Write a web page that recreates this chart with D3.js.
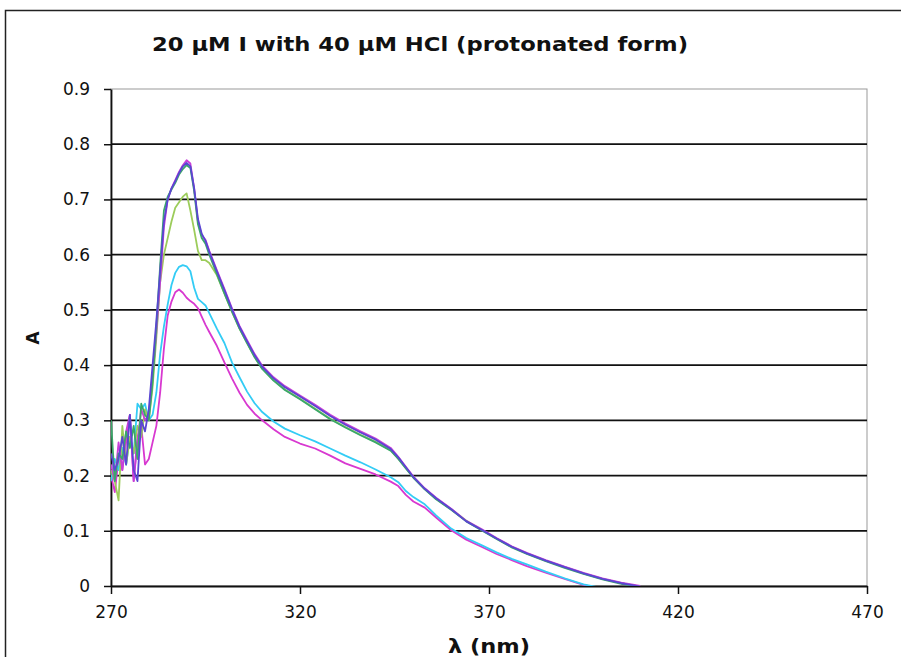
<!DOCTYPE html>
<html>
<head>
<meta charset="utf-8">
<script src="https://cdn.jsdelivr.net/npm/d3@7"></script>
<style>
  body { margin: 0; background: #fff; }
  svg { display: block; }
  text { font-family: 'DejaVu Sans', Verdana, sans-serif; }
</style>
</head>
<body>
<svg width="901" height="657"></svg>
<script>
// data
var wavelengths = [270,271,272,273,274,275,276,277,278,279,280,281,282,283,284,285,286,287,288,289,290,
  291,292,293,294,295,296,298,300,302,304,306,308,310,313,316,320,324,328,332,336,340,344,346,348,350,
  353,356,360,364,368,372,376,380,385,390,395,400,405,410];

var magentaLow = [0.20,0.17,0.23,0.21,0.26,0.31,0.19,0.27,0.29,0.22,0.23,0.26,0.29,0.35,0.43,0.49,0.515,0.532,0.537,0.531,0.522,
  0.516,0.511,0.503,0.488,0.473,0.46,0.435,0.405,0.376,0.35,0.328,0.312,0.30,0.284,0.27,0.258,0.249,0.236,0.222,0.212,0.202,0.189,0.181,0.165,0.153,
  0.142,0.124,0.101,0.084,0.071,0.058,0.047,0.036,0.024,0.013,0.002,-0.005,null,null];
var cyan = [0.19,0.23,0.21,0.25,0.22,0.27,0.24,0.33,0.32,0.33,0.30,0.31,0.35,0.42,0.47,0.51,0.545,0.567,0.578,0.581,0.579,
  0.57,0.54,0.52,0.514,0.508,0.494,0.466,0.44,0.405,0.378,0.352,0.331,0.315,0.298,0.285,0.273,0.262,0.249,0.236,0.224,0.211,0.197,0.188,0.172,0.161,
  0.148,0.128,0.104,0.087,0.074,0.061,0.049,0.039,0.026,0.014,0.003,-0.004,null,null];
var lightGreen = [0.21,0.19,0.155,0.29,0.22,0.27,0.24,0.29,0.27,0.32,0.30,0.36,0.45,0.55,0.60,0.63,0.66,0.685,0.695,0.705,0.711,
  0.68,0.645,0.607,0.59,0.59,0.585,0.563,0.53,0.497,0.466,0.44,0.415,0.394,0.373,0.356,0.339,0.321,0.303,0.288,0.274,0.261,0.246,0.231,0.214,0.197,
  0.176,0.158,0.139,0.118,0.102,0.086,0.071,0.059,0.046,0.034,0.023,0.013,0.005,-0.001];
var magentaHigh = [0.22,0.19,0.26,0.21,0.28,0.31,0.19,0.26,0.32,0.30,0.31,0.38,0.46,0.55,0.65,0.70,0.72,0.735,0.75,0.762,0.771,
  0.765,0.72,0.66,0.635,0.627,0.607,0.572,0.538,0.503,0.471,0.445,0.42,0.399,0.378,0.362,0.345,0.328,0.31,0.294,0.28,0.267,0.25,0.234,0.216,0.198,
  0.177,0.16,0.14,0.118,0.103,0.087,0.072,0.06,0.047,0.035,0.024,0.014,0.006,0.0];
var green = [0.30,0.19,0.24,0.23,0.28,0.25,0.29,0.23,0.33,0.31,0.30,0.37,0.47,0.58,0.68,0.705,0.718,0.73,0.745,0.755,0.762,
  0.757,0.715,0.655,0.63,0.62,0.60,0.565,0.53,0.497,0.466,0.44,0.414,0.393,0.372,0.355,0.338,0.32,0.302,0.287,0.273,0.26,0.245,0.23,0.213,0.196,
  0.175,0.157,0.138,0.117,0.101,0.085,0.07,0.058,0.045,0.033,0.022,0.012,0.004,-0.002];
var violet = [0.24,0.21,0.23,0.27,0.22,0.31,0.21,0.19,0.30,0.28,0.32,0.40,0.48,0.57,0.66,0.70,0.72,0.733,0.748,0.76,0.766,
  0.76,0.72,0.665,0.638,0.625,0.605,0.57,0.536,0.501,0.469,0.443,0.418,0.397,0.376,0.36,0.343,0.326,0.308,0.292,0.278,0.265,0.248,0.233,0.215,0.197,
  0.176,0.159,0.139,0.117,0.102,0.086,0.071,0.059,0.046,0.034,0.023,0.013,0.005,-0.001];

var seriesValues = [magentaLow, cyan, lightGreen, magentaHigh, green, violet];
var seriesColors = ['#d838d0', '#33ccf5', '#9ccc5a', '#c83fd8', '#3aa86a', '#5a46d2'];

var xTicks = [270, 320, 370, 420, 470];
var yTicks = [0, 0.1, 0.2, 0.3, 0.4, 0.5, 0.6, 0.7, 0.8, 0.9];

var titleText = '20 \u00b5M I with 40 \u00b5M HCl (protonated form)';
var xTitle = '\u03bb (nm)';
var yTitle = 'A';

// layout
var plotLeft = 111, plotRight = 867, plotTop = 89, plotBottom = 586;

var svg = d3.select('svg');

svg.append('rect')
  .attr('x', 5.5).attr('y', 10.5)
  .attr('width', 905).attr('height', 660)
  .attr('fill', 'none').attr('stroke', '#222').attr('stroke-width', 1.5);

var x = d3.scaleLinear().domain([270, 470]).range([plotLeft, plotRight]);
var y = d3.scaleLinear().domain([0, 0.9]).range([plotBottom, plotTop]);

// plot frame (top / right in grey)
svg.append('rect')
  .attr('x', plotLeft).attr('y', plotTop)
  .attr('width', plotRight - plotLeft).attr('height', plotBottom - plotTop)
  .attr('fill', 'none').attr('stroke', '#999').attr('stroke-width', 1);

// gridlines
svg.append('g')
  .selectAll('line')
  .data(yTicks.filter(function(d){ return d > 0 && d < 0.9; }))
  .enter().append('line')
  .attr('x1', plotLeft).attr('x2', plotRight)
  .attr('y1', function(d){ return y(d); })
  .attr('y2', function(d){ return y(d); })
  .attr('stroke', '#111').attr('stroke-width', 1.8);

// y axis
var yAxis = svg.append('g')
  .attr('transform', 'translate(' + plotLeft + ',0)')
  .call(d3.axisLeft(y).tickValues(yTicks).tickSize(7).tickSizeOuter(0).tickPadding(14)
    .tickFormat(function(d){ return d === 0 ? '0' : d3.format('.1f')(d); }));
yAxis.select('.domain').attr('stroke', '#111').attr('stroke-width', 1.8);
yAxis.selectAll('.tick line').attr('stroke', '#111').attr('stroke-width', 1.5);
yAxis.selectAll('text').attr('font-size', '17px').attr('fill', '#111')
  .attr('font-family', "'DejaVu Sans', Verdana, sans-serif");

// x axis
var xAxis = svg.append('g')
  .attr('transform', 'translate(0,' + plotBottom + ')')
  .call(d3.axisBottom(x).tickValues(xTicks).tickSize(8).tickSizeOuter(0).tickPadding(12));
xAxis.select('.domain').attr('stroke', '#111').attr('stroke-width', 1.8);
xAxis.selectAll('.tick line').attr('stroke', '#111').attr('stroke-width', 1.5);
xAxis.selectAll('text').attr('font-size', '17px').attr('fill', '#111')
  .attr('font-family', "'DejaVu Sans', Verdana, sans-serif");

// clip
svg.append('clipPath').attr('id', 'plotclip')
  .append('rect').attr('x', plotLeft).attr('y', plotTop - 2)
  .attr('width', plotRight - plotLeft).attr('height', plotBottom - plotTop + 2);

var line = d3.line()
  .defined(function(d){ return d[1] !== null; })
  .x(function(d){ return x(d[0]); })
  .y(function(d){ return y(d[1]); });

svg.append('g')
  .attr('clip-path', 'url(#plotclip)')
  .selectAll('path')
  .data(seriesValues)
  .enter().append('path')
  .attr('d', function(vals){
    return line(wavelengths.map(function(w, i){ return [w, vals[i]]; }));
  })
  .attr('fill', 'none')
  .attr('stroke', function(d, i){ return seriesColors[i]; })
  .attr('stroke-width', 1.8)
  .attr('stroke-linejoin', 'round');

// titles
svg.append('text')
  .attr('x', 152).attr('y', 51)
  .attr('textLength', 536).attr('lengthAdjust', 'spacingAndGlyphs')
  .attr('font-size', '19px').attr('font-weight', 'bold').attr('fill', '#111')
  .text(titleText);

svg.append('text')
  .attr('x', 448).attr('y', 653)
  .attr('textLength', 82).attr('lengthAdjust', 'spacingAndGlyphs')
  .attr('font-size', '19px').attr('font-weight', 'bold').attr('fill', '#111')
  .text(xTitle);

svg.append('text')
  .attr('transform', 'translate(39,338) rotate(-90)')
  .attr('text-anchor', 'middle')
  .attr('font-size', '17px').attr('font-weight', 'bold').attr('fill', '#111')
  .text(yTitle);
</script>
</body>
</html>
